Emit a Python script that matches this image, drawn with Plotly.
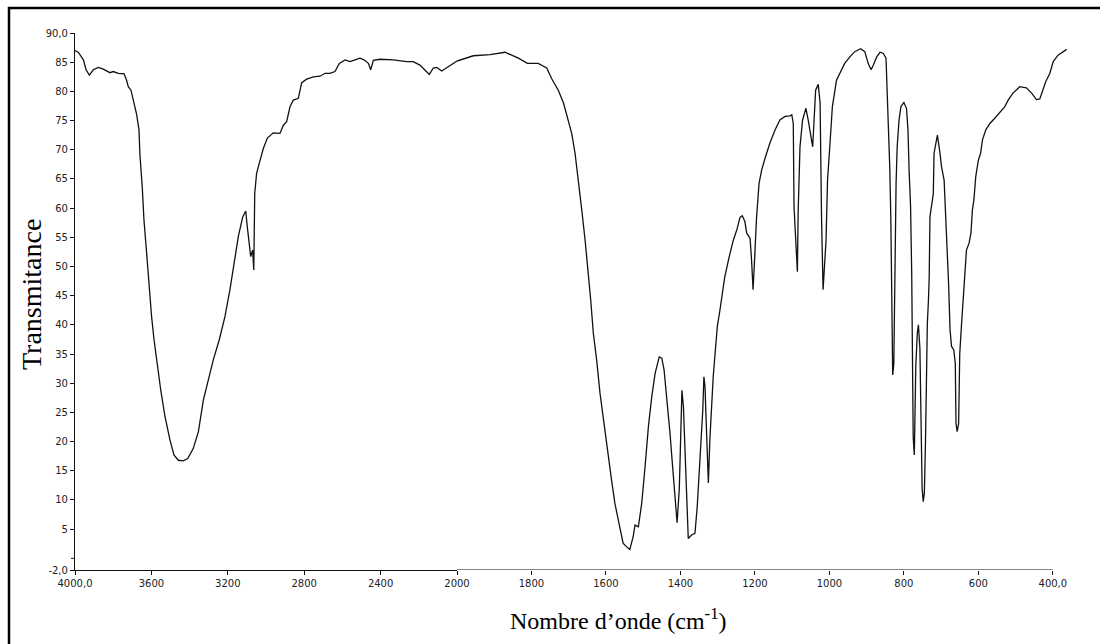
import plotly.graph_objects as go

# FTIR spectrum: wavenumber (cm-1) and transmittance (%)
wavenumber = [
    4000, 3983, 3956, 3942, 3925, 3904, 3878, 3852, 3817, 3800, 3773, 3743, 3730, 3721, 3707,
    3691, 3677, 3665, 3660, 3648, 3639, 3625, 3613, 3599, 3586, 3569, 3551, 3529, 3503, 3482,
    3459, 3433, 3410, 3381, 3354, 3328, 3302, 3276, 3245, 3215, 3189, 3168, 3145, 3122, 3106,
    3098, 3087, 3080, 3070, 3064, 3059, 3049, 3035, 3014, 2993, 2962, 2927, 2909, 2892, 2874,
    2857, 2831, 2813, 2787, 2752, 2717, 2691, 2665, 2639, 2616, 2586, 2560, 2534, 2508, 2487,
    2464, 2452, 2438, 2403, 2333, 2263, 2229, 2194, 2167, 2145, 2124, 2106, 2080, 2045, 2021,
    2000, 1974, 1956, 1911, 1871, 1835, 1811, 1782, 1759, 1746, 1728, 1714, 1701, 1692, 1683,
    1674, 1665, 1656, 1647, 1641, 1634, 1625, 1616, 1607, 1597, 1585, 1576, 1564, 1554, 1545,
    1536, 1527, 1522, 1513, 1504, 1495, 1486, 1477, 1468, 1457, 1450, 1444, 1437, 1428, 1421,
    1415, 1409, 1403, 1400, 1396, 1392, 1388, 1383, 1379, 1370, 1361, 1355, 1350, 1344, 1340,
    1337, 1334, 1332, 1328, 1325, 1321, 1316, 1312, 1307, 1301, 1294, 1289, 1281, 1269, 1258,
    1249, 1240, 1234, 1227, 1222, 1213, 1209, 1205, 1200, 1196, 1189, 1182, 1173, 1160, 1146,
    1133, 1119, 1106, 1101, 1097, 1095, 1090, 1086, 1084, 1079, 1072, 1066, 1063, 1057, 1051,
    1045, 1042, 1037, 1030, 1025, 1021, 1017, 1009, 1005, 999, 992, 981, 967, 959, 945,
    932, 916, 905, 896, 888, 882, 873, 864, 855, 848, 845, 841, 838, 835, 833,
    830, 827, 826, 823, 821, 818, 813, 808, 800, 793, 789, 786, 782, 779, 777,
    775, 772, 770, 768, 764, 761, 757, 754, 751, 748, 745, 742, 740, 737, 734,
    732, 730, 726, 721, 719, 714, 710, 703, 699, 692, 687, 684, 680, 676, 672,
    666, 662, 660, 657, 653, 650, 645, 641, 636, 632, 625, 620, 616, 612, 607,
    600, 594, 589, 580, 569, 556, 542, 529, 520, 507, 489, 471, 457, 444, 435,
    426, 419, 408, 399, 386, 374, 363,
]
transmittance = [
    87.0, 86.7, 85.4, 83.7, 82.8, 83.7, 84.1, 83.8, 83.2, 83.4, 83.1, 83.0, 81.9, 80.8, 80.2,
    78.2, 76.0, 73.4, 69.1, 63.7, 58.0, 52.3, 46.5, 41.4, 37.4, 32.8, 28.8, 24.3, 20.3, 17.7,
    16.8, 16.7, 17.1, 18.8, 21.7, 27.1, 30.8, 34.0, 37.4, 41.4, 46.0, 50.5, 55.1, 58.5, 59.5,
    56.8, 54.2, 51.7, 52.8, 49.4, 62.5, 66.0, 67.7, 70.2, 72.0, 72.9, 72.8, 74.2, 74.8, 77.4,
    78.5, 78.8, 81.5, 82.1, 82.5, 82.6, 83.1, 83.1, 83.4, 84.8, 85.4, 85.1, 85.4, 85.7, 85.4,
    84.8, 83.7, 85.3, 85.5, 85.4, 85.1, 85.1, 84.5, 83.7, 82.9, 84.0, 84.1, 83.5, 84.2, 84.8,
    85.2, 85.7, 86.1, 86.3, 86.7, 85.7, 84.8, 84.8, 84.0, 82.2, 80.2, 78.0, 75.1, 72.8, 69.4,
    64.8, 59.7, 54.5, 48.8, 44.3, 38.6, 34.0, 28.3, 23.7, 18.6, 13.4, 9.4, 5.4, 2.6, 2.0,
    1.5, 3.7, 5.7, 5.4, 9.4, 15.7, 22.6, 27.7, 31.7, 34.5, 34.3, 32.3, 27.7, 21.4, 15.7,
    10.0, 6.1, 12.0, 19.7, 28.8, 26.0, 18.6, 10.0, 3.4, 4.0, 4.3, 8.8, 14.6, 20.3, 25.4,
    31.1, 29.4, 25.4, 18.0, 12.9, 20.3, 27.1, 31.1, 35.1, 39.7, 42.5, 44.5, 48.2, 51.7, 54.5,
    56.2, 58.4, 58.7, 57.7, 55.7, 54.8, 51.1, 46.0, 52.3, 58.0, 64.2, 66.5, 68.5, 71.1, 73.4,
    75.1, 75.7, 75.8, 76.0, 74.5, 60.2, 52.3, 49.1, 59.1, 70.5, 75.1, 76.5, 77.1, 75.1, 72.8,
    70.5, 74.0, 80.2, 81.2, 78.0, 58.0, 46.0, 54.5, 64.8, 70.5, 77.4, 81.9, 83.7, 84.8, 85.9,
    86.8, 87.3, 86.8, 84.8, 83.7, 84.5, 85.9, 86.7, 86.5, 85.7, 80.8, 75.1, 67.1, 58.0, 44.3,
    31.4, 33.4, 39.7, 52.0, 64.2, 70.5, 75.1, 77.4, 78.1, 77.1, 73.4, 66.5, 60.2, 48.8, 30.0,
    20.8, 17.7, 25.0, 33.0, 38.5, 40.0, 36.0, 20.0, 12.0, 9.7, 11.2, 20.0, 30.6, 40.3, 44.3,
    48.2, 58.5, 60.2, 62.5, 69.4, 71.1, 72.5, 69.4, 67.1, 64.8, 58.0, 52.3, 47.1, 39.1, 36.3,
    35.7, 33.4, 23.1, 21.7, 23.1, 35.1, 40.3, 43.7, 48.8, 52.8, 54.0, 55.7, 59.7, 61.4, 65.4,
    68.2, 69.4, 71.7, 73.4, 74.5, 75.4, 76.5, 77.4, 78.5, 79.7, 80.8, 80.6, 79.7, 78.6, 78.7,
    80.2, 81.7, 83.1, 85.1, 86.2, 86.8, 87.2,
]

# Tick labels of the two x-axis segments (scale doubles below 2000 cm-1) and y axis
x_hi_ticks = [4000, 3600, 3200, 2800, 2400, 2000]
x_hi_labels = ["4000,0", "3600", "3200", "2800", "2400", "2000"]
x_lo_ticks = [1800, 1600, 1400, 1200, 1000, 800, 600, 400]
x_lo_labels = ["1800", "1600", "1400", "1200", "1000", "800", "600", "400,0"]
y_ticks = [-2, 5, 10, 15, 20, 25, 30, 35, 40, 45, 50, 55, 60, 65, 70, 75, 80, 85, 90]
y_labels = ["-2,0", "5", "10", "15", "20", "25", "30", "35", "40", "45", "50",
            "55", "60", "65", "70", "75", "80", "85", "90,0"]
y_unlabelled_tick = 0

hi = [(w, t) for w, t in zip(wavenumber, transmittance) if w >= 2000]
lo = [(w, t) for w, t in zip(wavenumber, transmittance) if w <= 2000]

LINE = dict(color="#111111", width=1.3)
TICKFONT = dict(family="DejaVu Sans", size=10, color="#222222")
PLOT_W = 1100 - 75 - 33

fig = go.Figure()
fig.add_trace(go.Scatter(x=[p[0] for p in hi], y=[p[1] for p in hi], mode="lines",
                         line=LINE, xaxis="x", yaxis="y", showlegend=False))
fig.add_trace(go.Scatter(x=[p[0] for p in lo], y=[p[1] for p in lo], mode="lines",
                         line=LINE, xaxis="x2", yaxis="y", showlegend=False))

split = 382 / PLOT_W
common_x = dict(showgrid=False, zeroline=False, ticks="outside", ticklen=4, tickwidth=1,
                tickcolor="#111111", tickfont=TICKFONT, anchor="y")

fig.update_layout(
    width=1100, height=644,
    margin=dict(l=75, r=33, t=33, b=74),
    paper_bgcolor="white", plot_bgcolor="white",
    xaxis=dict(domain=[0, split], range=[4000, 2000], tickmode="array",
               tickvals=x_hi_ticks, ticktext=x_hi_labels,
               showline=True, linecolor="#111111", linewidth=1.2, **common_x),
    xaxis2=dict(domain=[split, 1], range=[2000, 362], tickmode="array",
                tickvals=x_lo_ticks, ticktext=x_lo_labels, showline=False, **common_x),
    yaxis=dict(range=[-2, 90], tickmode="array", tickvals=y_ticks, ticktext=y_labels,
               showgrid=False, zeroline=False, ticks="outside", ticklen=4, tickwidth=1,
               tickcolor="#111111", tickfont=TICKFONT, showline=True,
               linecolor="#111111", linewidth=1.2, anchor="x"),
    shapes=[
        # axis line of the low-wavenumber segment, ending at 400 cm-1
        dict(type="line", xref="x2", yref="y", x0=2000, x1=400, y0=-2, y1=-2,
             line=dict(color="#111111", width=1.2)),
        # unlabelled tick at 0
        dict(type="line", xref="paper", yref="y", x0=-4 / PLOT_W, x1=0,
             y0=y_unlabelled_tick, y1=y_unlabelled_tick,
             line=dict(color="#111111", width=1)),
        # outer frame
        dict(type="rect", xref="paper", yref="paper", x0=-66 / PLOT_W, x1=1.06,
             y0=-0.2, y1=1.0466, line=dict(color="black", width=2.5),
             fillcolor="rgba(0,0,0,0)", layer="above"),
    ],
    annotations=[
        dict(text="Nombre d’onde (cm<sup>-1</sup>)", xref="paper", yref="paper",
             x=(618 - 75) / PLOT_W, y=(570 - 619) / 537, xanchor="center", yanchor="middle",
             showarrow=False, font=dict(family="Liberation Serif", size=24, color="black")),
        dict(text="Transmitance", xref="paper", yref="paper", textangle=-90,
             x=(31 - 75) / PLOT_W, y=(570 - 295) / 537, xanchor="center", yanchor="middle",
             showarrow=False, font=dict(family="Liberation Serif", size=28, color="black")),
    ],
)

fig.write_html("out.html")
